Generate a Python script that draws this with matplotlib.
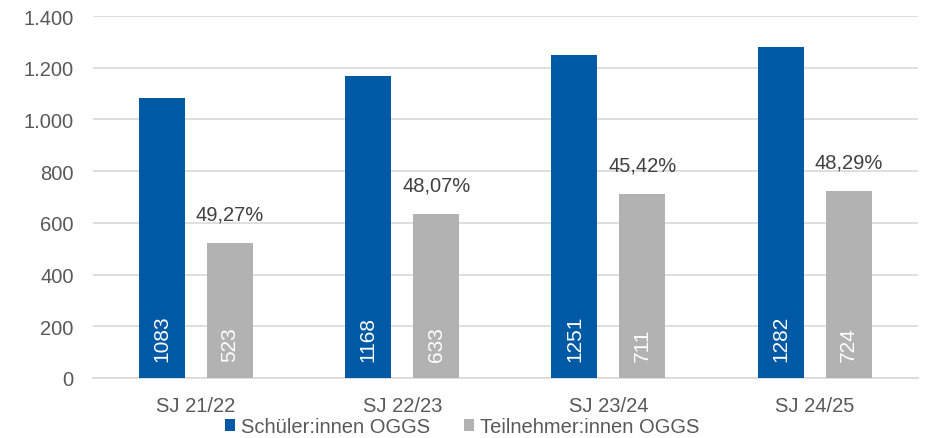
import matplotlib.pyplot as plt
import numpy as np

plt.rcParams['font.family'] = ['Liberation Sans', 'DejaVu Sans']

# Daten
kategorien = ['SJ 21/22', 'SJ 22/23', 'SJ 23/24', 'SJ 24/25']
schueler = [1083, 1168, 1251, 1282]
teilnehmer = [523, 633, 711, 724]
quoten = ['49,27%', '48,07%', '45,42%', '48,29%']

BLAU = '#0059A5'
GRAU = '#B2B2B2'
TEXT = '#595959'

fig = plt.figure(figsize=(9.26, 4.39), dpi=100)
ax = fig.add_axes([0.1004, 0.137, 0.8906, 0.824])

x = np.arange(len(kategorien))
breite = 0.223
versatz = 0.165

b1 = ax.bar(x - versatz, schueler, breite, color=BLAU, label='Schüler:innen OGGS', zorder=3)
b2 = ax.bar(x + versatz, teilnehmer, breite, color=GRAU, label='Teilnehmer:innen OGGS', zorder=3)

# Werte in den Balken (gedreht)
for rects, werte in ((b1, schueler), (b2, teilnehmer)):
    for r, w in zip(rects, werte):
        ax.annotate(str(w), (r.get_x() + r.get_width() / 2, 0), xytext=(0, 12),
                    textcoords='offset points', rotation=90, ha='center', va='bottom',
                    color='white', fontsize=15, zorder=4)

# Quoten über den grauen Balken
for r, q in zip(b2, quoten):
    ax.annotate(q, (r.get_x() + r.get_width() / 2, r.get_height()), xytext=(0, 14),
                textcoords='offset points', ha='center', va='bottom',
                color='#404040', fontsize=14.5)

ax.set_xlim(-0.5, len(kategorien) - 0.5)
ax.set_ylim(0, 1400)
ax.set_yticks(range(0, 1401, 200))
ax.set_yticklabels(['0', '200', '400', '600', '800', '1.000', '1.200', '1.400'])
ax.set_xticks(x)
ax.set_xticklabels(kategorien)

ax.grid(axis='y', color='#D9D9D9', linewidth=1.2, zorder=0)
for s in ('top', 'right', 'left'):
    ax.spines[s].set_visible(False)
ax.spines['bottom'].set_color('#D9D9D9')
ax.spines['bottom'].set_linewidth(1.2)
ax.tick_params(axis='both', length=0, labelsize=14.5, colors=TEXT)
ax.tick_params(axis='x', pad=13)
ax.tick_params(axis='y', pad=14)

fig.legend(handles=[b1, b2], loc='center', bbox_to_anchor=(0.499, 0.026), ncol=2, frameon=False,
           fontsize=14.5, labelcolor=TEXT, handlelength=0.5, handleheight=0.5,
           handletextpad=0.3, columnspacing=1.7, borderaxespad=0, borderpad=0)

fig.savefig('out.png', dpi=100)
